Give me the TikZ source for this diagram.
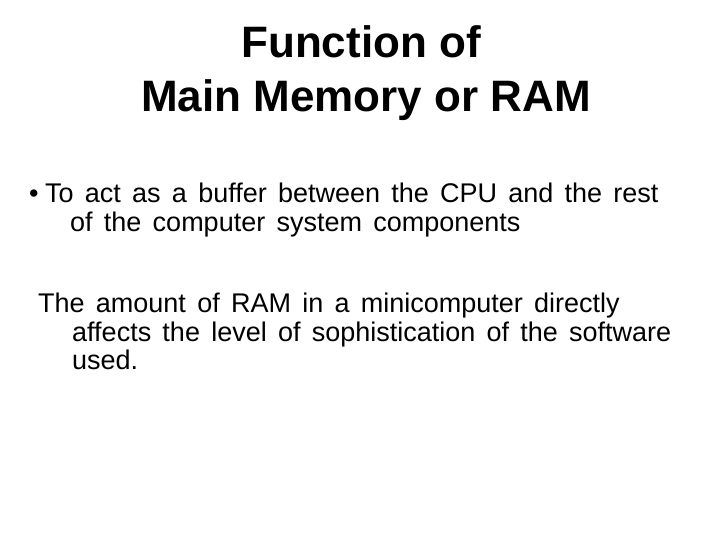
\documentclass[tikz,border=0pt]{standalone}
\usepackage{fontspec}
\setmainfont{Liberation Sans}
\newfontfamily\bodyfont[WordSpace=1.5]{Liberation Sans}
\begin{document}
\begin{tikzpicture}[x=1pt,y=-1pt,
  title/.style={font=\fontsize{44}{50}\selectfont\bfseries,anchor=base},
  body/.style={font=\bodyfont\fontsize{27}{30}\selectfont,anchor=base west,inner sep=0pt}]
\useasboundingbox[fill=white] (0,0) rectangle (720,540);
\node[title] (t1) at (361,58) {Function of};
\node[title] (t2) at (366,112) {Main Memory or RAM};
\node[body] (b) at (29,203) {•};
\node[body] (l1) at (45,203) {To act as a buffer between the CPU and the rest};
\node[body] (l2) at (70,231) {of the computer system components};
\node[body] (p1) at (38,312) {The amount of RAM in a minicomputer directly};
\node[body] (p2) at (72,341) {affects the level of sophistication of the software};
\node[body] (p3) at (72,369) {used.};
\end{tikzpicture}
\end{document}
